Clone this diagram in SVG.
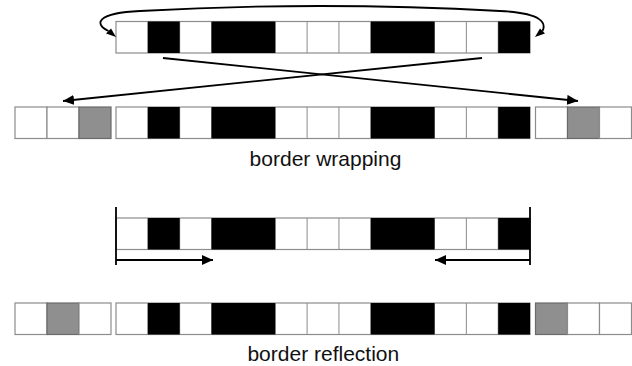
<svg xmlns="http://www.w3.org/2000/svg" xmlns:xlink="http://www.w3.org/1999/xlink" width="632" height="366" viewBox="0 0 632 366">
<style>
.cell{fill:#fff;stroke:#8c8c8c;stroke-width:1.2}
.gcell{fill:#8f8f8f;stroke:#6a6a6a;stroke-width:1.2}
.sep{stroke:#8c8c8c;stroke-width:1}
.blk{fill:#000}
.ln{fill:none;stroke:#000;stroke-width:1.8}
.lbl{font-family:"Liberation Sans",Arial,sans-serif;font-size:21px;fill:#111;text-anchor:middle}
</style>
<defs>
<marker id="ah" viewBox="0 0 11 10" refX="11" refY="5" markerWidth="11" markerHeight="10" markerUnits="userSpaceOnUse" orient="auto">
<path d="M0,0 L11,5 L0,10 z" fill="#000"/>
</marker>
<g id="row">
<rect class="cell" x="0" y="0" width="414" height="31.5"/>
<path class="sep" d="M31.85,0v31.5M63.7,0v31.5M95.55,0v31.5M127.4,0v31.5M159.25,0v31.5M191.1,0v31.5M222.95,0v31.5M254.8,0v31.5M286.65,0v31.5M318.5,0v31.5M350.35,0v31.5M382.2,0v31.5"/>
<rect class="blk" x="31.85" y="0" width="31.85" height="31.5"/>
<rect class="blk" x="95.55" y="0" width="63.7" height="31.5"/>
<rect class="blk" x="254.8" y="0" width="63.7" height="31.5"/>
<rect class="blk" x="382.2" y="0" width="31.85" height="31.5"/>
</g>
</defs>

<g id="wrap-source">
<use xlink:href="#row" href="#row" x="116" y="21.5"/>
</g>

<g id="wrap-result">
<rect class="cell" x="15" y="107" width="32" height="31.5"/>
<rect class="cell" x="47" y="107" width="32" height="31.5"/>
<rect class="gcell" x="79" y="107" width="32" height="31.5"/>
<use xlink:href="#row" href="#row" x="116" y="107"/>
<rect class="cell" x="535.5" y="107" width="32" height="31.5"/>
<rect class="gcell" x="567.5" y="107" width="32" height="31.5"/>
<rect class="cell" x="599.5" y="107" width="32" height="31.5"/>
</g>

<g id="reflect-source">
<use xlink:href="#row" href="#row" x="116" y="218"/>
</g>

<g id="reflect-result">
<rect class="cell" x="15" y="303" width="32" height="31.5"/>
<rect class="gcell" x="47" y="303" width="32" height="31.5"/>
<rect class="cell" x="79" y="303" width="32" height="31.5"/>
<use xlink:href="#row" href="#row" x="116" y="303"/>
<rect class="gcell" x="535.5" y="303" width="32" height="31.5"/>
<rect class="cell" x="567.5" y="303" width="32" height="31.5"/>
<rect class="cell" x="599.5" y="303" width="32" height="31.5"/>
</g>

<g id="connectors">
<path class="ln" d="M108.5,31 C94,24 96,13 140,11 Q320,1 500,11 C544,13 546,24 542.5,31"/>
<polygon points="116,37 106,33.5 111,28.5" fill="#000"/>
<polygon points="535,37 545,33.5 540,28.5" fill="#000"/>
<line class="ln" x1="163" y1="58" x2="578" y2="101" marker-end="url(#ah)"/>
<line class="ln" x1="482" y1="58" x2="63" y2="101" marker-end="url(#ah)"/>
<line class="ln" x1="116" y1="207" x2="116" y2="265"/>
<line class="ln" x1="530" y1="207" x2="530" y2="265"/>
<line class="ln" x1="116" y1="260" x2="213" y2="260" marker-end="url(#ah)"/>
<line class="ln" x1="530" y1="260" x2="435" y2="260" marker-end="url(#ah)"/>
</g>

<text class="lbl" x="325.5" y="166">border wrapping</text>
<text class="lbl" x="323.3" y="361">border reflection</text>
</svg>
